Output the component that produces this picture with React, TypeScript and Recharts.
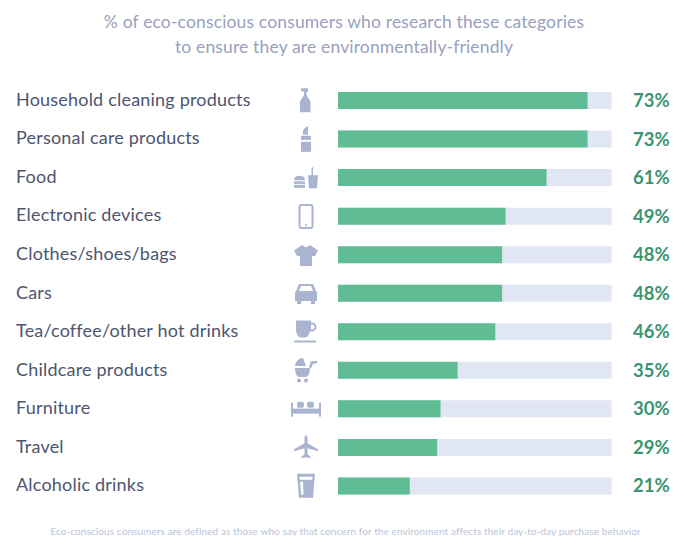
import { Bar, BarChart, LabelList, XAxis, YAxis } from 'recharts';

const categories = [
  'Household cleaning products',
  'Personal care products',
  'Food',
  'Electronic devices',
  'Clothes/shoes/bags',
  'Cars',
  'Tea/coffee/other hot drinks',
  'Childcare products',
  'Furniture',
  'Travel',
  'Alcoholic drinks',
];
const shares = [73, 73, 61, 49, 48, 48, 46, 35, 30, 29, 21];
const titleLines = [
  '% of eco-conscious consumers who research these categories',
  'to ensure they are environmentally-friendly',
];
const footnote =
  'Eco-conscious consumers are defined as those who say that concern for the environment affects their day-to-day purchase behavior';

const chartData = categories.map((category, i) => ({ category, share: shares[i] }));

const FONT = 'Lato, sans-serif';
const ICON = '#a9b4d0';

// Small pictograms, drawn around (0, 0) at the centre of each row
const icons: Record<string, React.ReactNode> = {
  'Household cleaning products': (
    <path d="M-5 -12h7v3l-1.500 1v3l4 6v11h-10.500v-11l4 -6v-3.500l-3 -1z" fill={ICON} />
  ),
  'Personal care products': (
    <g fill={ICON}>
      <path d="M-1 -11l3 -1.500v8.500h-5v-4z" />
      <rect x={-5} y={-3} width={10} height={4} />
      <rect x={-5} y={3} width={10} height={10} />
    </g>
  ),
  Food: (
    <g fill={ICON}>
      <path d="M-12 3c0 -3 2 -4.500 5.500 -4.500s5.500 1.500 5.500 4.500z" />
      <rect x={-12} y={4} width={11} height={2.500} />
      <path d="M-12 7.500h11v3h-11z" />
      <path d="M2 -2h3.500l0 -8h1.500v8h5l-1 13h-8z" />
    </g>
  ),
  'Electronic devices': (
    <g>
      <rect x={-6.500} y={-11} width={13} height={23} rx={2} fill="none" stroke={ICON} strokeWidth={2} />
      <circle cx={0} cy={9} r={1} fill={ICON} />
    </g>
  ),
  'Clothes/shoes/bags': (
    <path d="M-4 -9.500l4 2.500 4 -2.500 8 5.500 -3 5.500h-3v10h-12v-10h-3l-3 -5.500z" fill={ICON} />
  ),
  Cars: (
    <path
      d="M-7 -9h14l3 7 1 1v9h-2v3h-4v-3h-10v3h-4v-3h-2v-9l1 -1zM-5 -7l-2 5h14l-2 -5z"
      fill={ICON}
      fillRule="evenodd"
    />
  ),
  'Tea/coffee/other hot drinks': (
    <g fill={ICON}>
      <path d="M-10 -11h15v2h1a4 4 0 0 1 0 9h-2c-1 4 -3 6 -5 6h-4c-3 0 -5 -4 -5 -8zM5 -7v5h1a2.500 2.500 0 0 0 0 -5z" fillRule="evenodd" />
      <rect x={-12} y={9} width={22} height={2} rx={1} />
    </g>
  ),
  'Childcare products': (
    <g fill={ICON}>
      <path d="M-11 -2h15c0 6 -2 8 -4 9h-7c-3 -1 -4 -5 -4 -9z" />
      <path d="M-11 -4a8 8 0 0 1 8 -8l3 8z" />
      <path d="M3 -3l2 -6h6v2.500h-4l-2 5z" />
      <circle cx={-7} cy={10.500} r={2} />
      <circle cx={0} cy={10.500} r={2} />
    </g>
  ),
  Furniture: (
    <g fill={ICON}>
      <rect x={-15} y={-6} width={2} height={14} />
      <rect x={13} y={-6} width={2} height={14} />
      <rect x={-14} y={0} width={28} height={5} />
      <rect x={-9} y={-7} width={7} height={6} rx={2} />
      <rect x={1} y={-7} width={7} height={6} rx={2} />
    </g>
  ),
  Travel: (
    <path
      d="M0 -12c1 0 1.500 1 1.500 3v5l10.500 6v2l-10.500 -3v6l3 2.500v1.500l-4.500 -1 -4.500 1v-1.500l3 -2.500v-6l-10.500 3v-2l10.500 -6v-5c0 -2 .5 -3 1.500 -3z"
      fill={ICON}
    />
  ),
  'Alcoholic drinks': (
    <path
      d="M-9 -12h18l-2 24h-14zM-6.500 -9l.3 3h12.400l.3 -3zM-6 -4l1.300 13h2.200l-.5 -13z"
      fill={ICON}
      fillRule="evenodd"
    />
  ),
};

function CategoryTick({ y, payload }: any) {
  return (
    <g>
      <text x={16} y={y} dy={5.500} fontFamily={FONT} fontSize={18} letterSpacing={0.2} fill="#4d5570">
        {payload.value}
      </text>
      <g transform={`translate(306 ${y})`}>{icons[payload.value]}</g>
    </g>
  );
}

// Percentages sit in a fixed column to the right of the tracks
function ShareLabel({ y, height, value }: any) {
  return (
    <text
      x={633}
      y={y + height / 2}
      dy={6.500}
      fontFamily={FONT}
      fontSize={18.500}
      fontWeight={700}
      fill="#3b9470"
    >
      {value}%
    </text>
  );
}

export default function App() {
  return (
    <div style={{ position: 'absolute', left: 0, top: 0, width: 675, height: 536, overflow: 'hidden', background: '#fff' }}>
      <BarChart
        width={675}
        height={536}
        data={chartData}
        layout="vertical"
        margin={{ top: 81, right: 63.500, bottom: 31, left: 0 }}
        barSize={17}
      >
        <XAxis type="number" domain={[0, 80]} hide />
        <YAxis
          type="category"
          dataKey="category"
          width={338}
          axisLine={false}
          tickLine={false}
          interval={0}
          tick={<CategoryTick />}
        />
        <Bar dataKey="share" fill="#5fbc94" background={{ fill: '#e0e6f4' }} isAnimationActive={false}>
          <LabelList dataKey="share" content={<ShareLabel />} />
        </Bar>
        {titleLines.map((line, i) => (
          <text
            key={line}
            x={344}
            y={28 + i * 25}
            textAnchor="middle"
            fontFamily={FONT}
            fontSize={17.500}
            letterSpacing={0.15}
            fill="#98a1c0"
          >
            {line}
          </text>
        ))}
        <text x={345.500} y={534.500} textAnchor="middle" fontFamily={FONT} fontSize={10} letterSpacing={0.1} fill="#bcc3d8">
          {footnote}
        </text>
      </BarChart>
    </div>
  );
}
